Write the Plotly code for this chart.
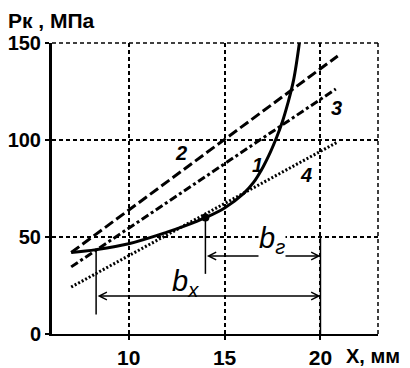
import plotly.graph_objects as go

# Curve 1 (solid)
c1_x = [7.0, 8.3, 10, 12, 13, 14, 15, 16, 16.5, 17, 17.4, 17.7, 18.0, 18.3, 18.6, 18.9]
c1_y = [42, 43.5, 46.5, 52.5, 56, 60, 65, 72.5, 78, 86, 94, 101, 109, 119, 131, 150]
# Straight lines 2, 3, 4
l2_x = [7.0, 20.9]; l2_y = [42, 143.3]
l3_x = [7.0, 20.8]; l3_y = [34.6, 126.3]
l4_x = [7.0, 20.9]; l4_y = [24.2, 99]
# Tangent point
pt_x = [14]; pt_y = [60]
# Thin construction lines
v1_x = [8.3, 8.3]; v1_y = [43.5, 10]
v2_x = [14, 14]; v2_y = [60, 31]
v3_x = [20, 20]; v3_y = [50, 0]
# Dimension arrows (start x, end x, y)
bx_arrow = [8.3, 20, 19.6]
bg_arrow = [14, 20, 40.2]

x_ticks = [10, 15, 20]
y_ticks = [0, 50, 100, 150]

FONT = "Liberation Sans"

fig = go.Figure()
fig.add_trace(go.Scatter(x=l2_x, y=l2_y, mode="lines",
                         line=dict(color="black", width=3, dash="10px,4px")))
fig.add_trace(go.Scatter(x=l3_x, y=l3_y, mode="lines",
                         line=dict(color="black", width=3, dash="8px,3px,3px,3px")))
fig.add_trace(go.Scatter(x=l4_x, y=l4_y, mode="lines",
                         line=dict(color="black", width=3, dash="2px,2px")))
fig.add_trace(go.Scatter(x=c1_x, y=c1_y, mode="lines", line_shape="spline",
                         line=dict(color="black", width=3)))
for vx, vy in [(v1_x, v1_y), (v2_x, v2_y), (v3_x, v3_y)]:
    fig.add_trace(go.Scatter(x=vx, y=vy, mode="lines",
                             line=dict(color="black", width=1.5)))
fig.add_trace(go.Scatter(x=pt_x, y=pt_y, mode="markers",
                         marker=dict(color="black", size=8)))

for a in (bx_arrow, bg_arrow):
    fig.add_annotation(x=a[1], y=a[2], ax=a[0], ay=a[2], xref="x", yref="y",
                       axref="x", ayref="y", text="", showarrow=True,
                       arrowhead=5, startarrowhead=5, arrowside="end+start",
                       arrowsize=1, startarrowsize=1, arrowwidth=1.5, arrowcolor="black",
                       standoff=0, startstandoff=0)

lab_font = dict(family=FONT, size=20, color="black", weight="bold", style="italic")
for t, x, y in [("1", 16.69, 87.1), ("2", 12.75, 93.5), ("3", 20.86, 116.5), ("4", 19.25, 82)]:
    fig.add_annotation(x=x, y=y, text=t, showarrow=False, font=lab_font)

bfont = dict(family=FONT, size=29, color="black", style="italic")
fig.add_annotation(x=12.95, y=26.5, text="b<sub>x</sub>", showarrow=False, font=bfont)
fig.add_annotation(x=17.45, y=48.5, text="b<sub>г</sub>", showarrow=False, font=bfont,
                   bgcolor="white", borderpad=0)

tfont = dict(family=FONT, size=21, color="black", weight="bold")
yfont = dict(family=FONT, size=20, color="black", weight="bold")
fig.add_annotation(xref="paper", yref="paper", x=-0.142, y=1.078, xanchor="left",
                   yanchor="middle", text="Pк , МПа", showarrow=False, font=tfont)
fig.add_annotation(xref="paper", yref="paper", x=0.897, y=-0.075, xanchor="left",
                   yanchor="middle", text="X, мм", showarrow=False, font=yfont)

# dashed right and top border
fig.add_shape(type="line", xref="paper", yref="paper", x0=1, x1=1, y0=0, y1=1,
              line=dict(color="black", width=1.5, dash="4px,3px"))
fig.add_shape(type="line", xref="paper", yref="paper", x0=0, x1=1, y0=1, y1=1,
              line=dict(color="black", width=1.5, dash="4px,3px"))

fig.update_xaxes(range=[6, 23], tickvals=x_ticks, showgrid=True, gridcolor="black",
                 gridwidth=1.5, griddash="4px,3px", showline=True, linecolor="black",
                 linewidth=2, ticks="outside", ticklen=4, tickwidth=1.5, tickcolor="black",
                 tickfont=tfont, zeroline=False, ticklabelstandoff=0, automargin=False)
fig.update_yaxes(range=[0, 150], tickvals=y_ticks, showgrid=True, gridcolor="black",
                 gridwidth=1.5, griddash="4px,3px", showline=True, linecolor="black",
                 linewidth=3, ticks="outside", ticklen=4, tickwidth=2, tickcolor="black",
                 tickfont=yfont, zeroline=False, automargin=False)
# page body adds an 8px offset, so the figure is sized to fit the 410x368 window
fig.update_layout(width=402, height=360, margin=dict(l=44, r=32, t=35, b=34),
                  plot_bgcolor="white", paper_bgcolor="white", showlegend=False)
fig.write_html("out.html")
